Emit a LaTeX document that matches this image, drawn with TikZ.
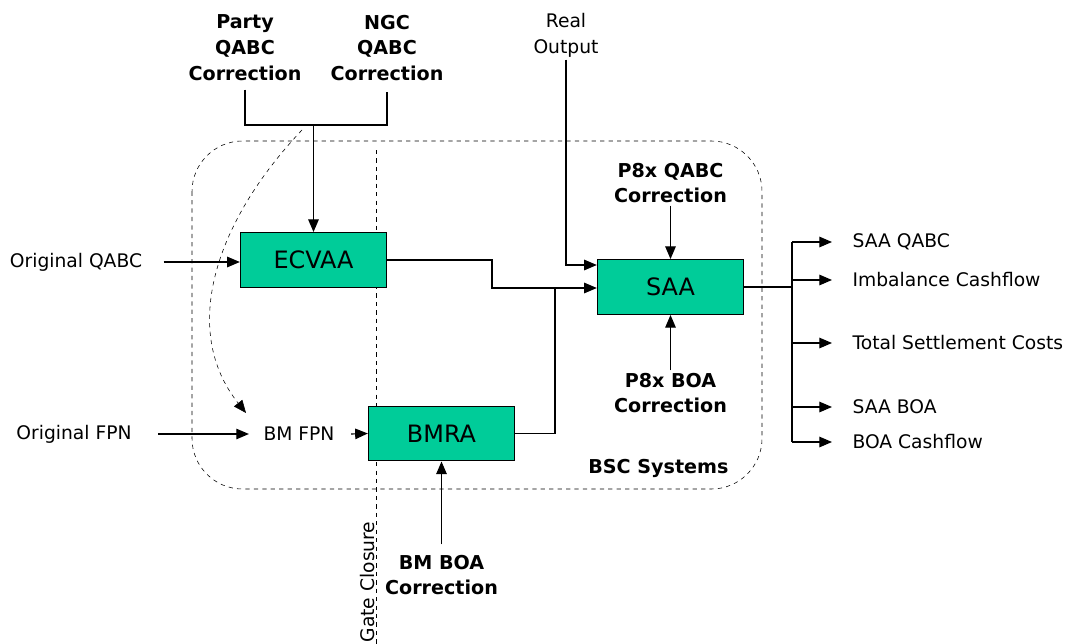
\documentclass[tikz,border=0pt]{standalone}
\usepackage{fontspec}
\setmainfont{DejaVu Sans}
\usetikzlibrary{positioning, arrows.meta}

\definecolor{sysgreen}{RGB}{0,204,153}

\tikzset{
  sysbox/.style={draw=black, fill=sysgreen, minimum width=104pt, minimum height=39pt, inner sep=0pt, font=\fontsize{17}{17}\selectfont},
  lbl/.style={inner sep=0pt, align=center, font=\fontsize{13.3}{18.4}\selectfont},
  blbl/.style={lbl, font=\fontsize{13.6}{18.4}\selectfont\bfseries},
  flow/.style={-{Triangle[length=9pt, width=7.5pt]}},
}

\begin{document}
\begin{tikzpicture}[x=0.025cm, y=-0.025cm, line width=0.8pt]
  \useasboundingbox (0,0) rectangle (1066,644);

  % system boundary and gate closure
  \draw[dashed, thin, rounded corners=36pt] (192,141) rectangle (762,489);
  \node[blbl, anchor=east] (bsc) at (729,468) {BSC Systems};
  \draw[dashed, thin] (376,150) -- (376,644);
  \node[lbl, rotate=90, anchor=south] (gate) at (375,582) {Gate Closure};

  % processing systems
  \node[sysbox] (ecvaa) at (313.5,260) {ECVAA};
  \node[sysbox] (bmra) at (441.5,433.5) {BMRA};
  \node[sysbox] (saa) at (670.5,287) {SAA};

  % inputs
  \node[blbl] (party) at (245,48) {Party\\QABC\\Correction};
  \node[blbl] (ngc) at (387,48) {NGC\\QABC\\Correction};
  \node[lbl] (real) at (566,35) {Real\\Output};
  \node[lbl] (oqabc) at (76,262) {Original QABC};
  \node[lbl] (ofpn) at (74,434) {Original FPN};
  \node[lbl, inner xsep=10pt] (bmfpn) at (299,434) {BM FPN};
  \node[blbl] (p8q) at (670.5,183) {P8x QABC\\Correction};
  \node[blbl] (p8b) at (670.5,393) {P8x BOA\\Correction};
  \node[blbl] (bmboa) at (441.5,575) {BM BOA\\Correction};

  % outputs
  \node[lbl, anchor=west] (o1) at (852,242) {SAA QABC};
  \node[lbl, anchor=west] (o2) at (852,280) {Imbalance Cashflow};
  \node[lbl, anchor=west] (o3) at (852,343) {Total Settlement Costs};
  \node[lbl, anchor=west] (o4) at (852,407) {SAA BOA};
  \node[lbl, anchor=west] (o5) at (852,442) {BOA Cashflow};

  % correction bracket into ECVAA
  \coordinate (pb) at (245,125);
  \coordinate (nb) at (387,125);
  \coordinate (mid) at (ecvaa.north |- pb);
  \draw (party.south) ++(0,8) |- (nb) -- ++(0,-33);
  \draw[flow] (mid) -- (ecvaa.north);
  \coordinate (late) at (302,130);
  \draw[dashed, thin, flow] (late) .. controls (215,222) and (180,330) .. (246,413);

  \draw[flow] (oqabc.east) ++(21,0) -- (ecvaa.west |- oqabc.east);
  \draw[flow] (ofpn.east) ++(26,0) -- (bmfpn.west);
  \draw[flow] (bmfpn.east) ++(2,0) -- (bmra.west);
  \draw[flow] (bmboa.north) ++(0,-10) -- (bmra.south);

  % into SAA
  \coordinate (join) at (555,288);
  \draw[flow] (ecvaa.east) -| (492,288) -- (saa.west |- join);
  \draw (bmra.east) -| (join);
  \draw[flow] (real.south) ++(0,2) |- (saa.west |- 0,265);
  \draw[flow] (p8q.south) ++(0,2) -- (saa.north);
  \draw[flow] (p8b.north) ++(0,-2) -- (saa.south);

  % output bus
  \coordinate (bus) at (792,287);
  \draw (saa.east) -- (bus);
  \draw (792,242) -- (792,442);
  \foreach \o in {o1,o2,o3,o4,o5}
    \draw[flow] (bus |- \o) -- ++(40,0);
\end{tikzpicture}
\end{document}
